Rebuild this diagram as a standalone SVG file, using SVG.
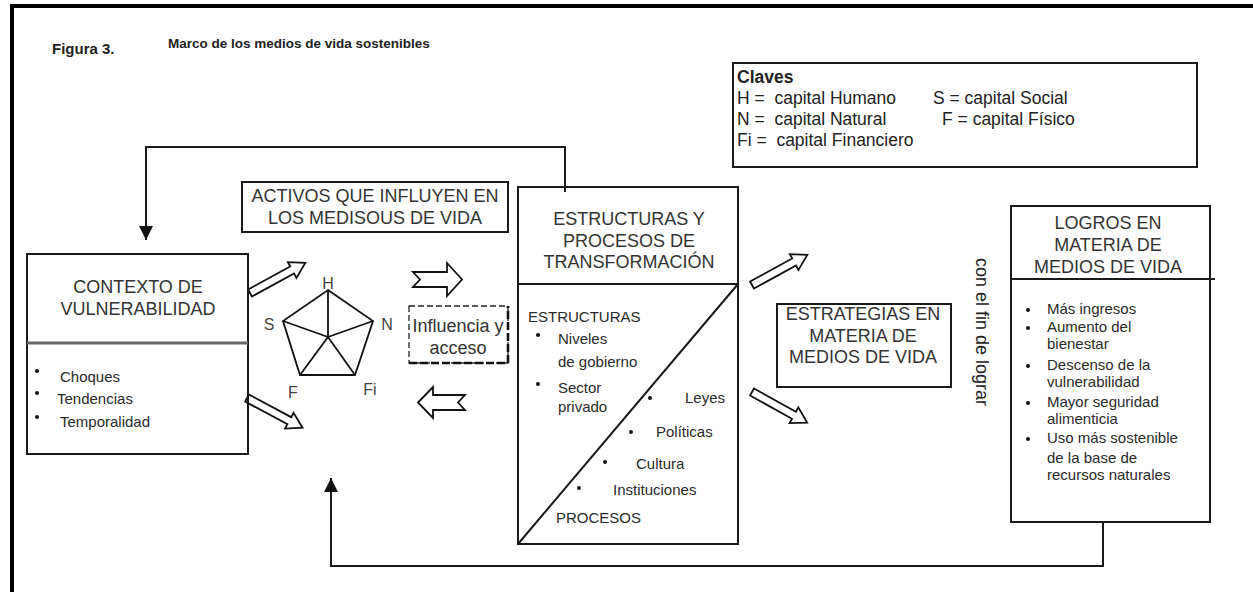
<svg xmlns="http://www.w3.org/2000/svg" width="1253" height="592" viewBox="0 0 1253 592">
<style>
 text{font-family:"Liberation Sans",Arial,sans-serif;fill:#222}
 .box{fill:none;stroke:#1a1a1a;stroke-width:2}
 .hd{font-size:18px;text-anchor:middle;fill:#333}
 .sm{font-size:15px;fill:#2a2a2a}
 .key{font-size:17.5px;fill:#222}
 .conn{fill:none;stroke:#1a1a1a;stroke-width:2}
 .blk{fill:#fff;stroke:#111;stroke-width:1.8;stroke-linejoin:miter}
 .lbl{font-size:16px;fill:#444;text-anchor:middle}
 .dot{fill:#111}
</style>
<defs>
 <marker id="ah" markerUnits="userSpaceOnUse" markerWidth="14" markerHeight="14" refX="14" refY="7" orient="auto"><path d="M0,0 L14,7 L0,14 Z" fill="#111"/></marker>
 <path id="darr" d="M0,-4 H48 V-9 L63,0 L48,9 V4 H0 Z"/>
</defs>
<rect width="1253" height="592" fill="#fff"/>
<path d="M12,592 V6 H1253" fill="none" stroke="#000" stroke-width="4"/>

<g id="title">
 <text x="52" y="54" font-size="15" font-weight="bold" fill="#000">Figura 3.</text>
 <text x="168" y="48" font-size="13.5" font-weight="bold" fill="#333">Marco de los medios de vida sostenibles</text>
</g>

<g id="claves">
 <rect class="box" x="733" y="63" width="464" height="104"/>
 <text class="key" x="737" y="83" font-weight="bold" font-size="16">Claves</text>
 <text class="key" x="737" y="104">H =&#160; capital Humano</text>
 <text class="key" x="933" y="104">S = capital Social</text>
 <text class="key" x="737" y="125">N =&#160; capital Natural</text>
 <text class="key" x="942" y="125">F = capital Físico</text>
 <text class="key" x="737" y="146">Fi =&#160; capital Financiero</text>
</g>

<g id="connectors">
 <path class="conn" d="M565,192 V147 H146 V240" marker-end="url(#ah)"/>
 <path class="conn" d="M1103,522 V566 H331 V478" marker-end="url(#ah)"/>
 <use href="#darr" class="blk" transform="translate(250,293) rotate(-28.6)"/>
 <use href="#darr" class="blk" transform="translate(247,398) rotate(28.2)"/>
 <use href="#darr" class="blk" transform="translate(752,285) rotate(-28.6)"/>
 <use href="#darr" class="blk" transform="translate(752,392) rotate(29)"/>
 <path class="blk" d="M413,272 H447 V263 L462,279.5 L447,296 V287 H413 L420,279.5 Z"/>
 <path class="blk" d="M418,402.5 L433,387 V395 H465 L458,402.5 L465,410 H433 V418 Z"/>
</g>

<g id="contexto">
 <rect class="box" x="27" y="254" width="221" height="200"/>
 <line x1="27" y1="343" x2="248" y2="343" stroke="#666" stroke-width="3"/>
 <text class="hd" x="138" y="293">CONTEXTO DE</text>
 <text class="hd" x="138" y="315">VULNERABILIDAD</text>
 <circle class="dot" cx="37" cy="371" r="2"/>
 <circle class="dot" cx="37" cy="393" r="2"/>
 <circle class="dot" cx="37" cy="417" r="2"/>
 <text class="sm" x="60" y="382">Choques</text>
 <text class="sm" x="57" y="404">Tendencias</text>
 <text class="sm" x="60" y="427">Temporalidad</text>
</g>

<g id="activos">
 <rect class="box" x="242" y="182" width="266" height="50"/>
 <text class="hd" x="375" y="202">ACTIVOS QUE INFLUYEN EN</text>
 <text class="hd" x="375" y="224">LOS MEDISOUS DE VIDA</text>
</g>

<g id="pentagono" stroke="#111" stroke-width="1.8" fill="none">
 <polygon points="328,290 373,321 355,375 300,375 283,321"/>
 <path d="M328,337 L328,290 M328,337 L373,321 M328,337 L355,375 M328,337 L300,375 M328,337 L283,321"/>
 <g stroke="none">
  <text class="lbl" x="328" y="289">H</text>
  <text class="lbl" x="269" y="330">S</text>
  <text class="lbl" x="387" y="330">N</text>
  <text class="lbl" x="293" y="398">F</text>
  <text class="lbl" x="370" y="395">Fi</text>
 </g>
</g>

<g id="influencia">
 <rect x="409" y="306" width="99" height="57" fill="none" stroke="#222" stroke-width="1.3" stroke-dasharray="6,3"/>
 <path d="M409,363 H508 V306" fill="none" stroke="#111" stroke-width="2.6" stroke-dasharray="8,3"/>
 <text class="hd" x="458" y="332">Influencia y</text>
 <text class="hd" x="458" y="354">acceso</text>
</g>

<g id="estructuras">
 <rect class="box" x="518" y="187" width="220" height="357"/>
 <line x1="518" y1="284" x2="738" y2="284" stroke="#1a1a1a" stroke-width="2"/>
 <line x1="518" y1="544" x2="738" y2="284" stroke="#1a1a1a" stroke-width="2"/>
 <text class="hd" x="629" y="225">ESTRUCTURAS Y</text>
 <text class="hd" x="629" y="247">PROCESOS DE</text>
 <text class="hd" x="629" y="268">TRANSFORMACIÓN</text>
 <text class="sm" x="528" y="322">ESTRUCTURAS</text>
 <circle class="dot" cx="538" cy="335" r="2"/>
 <text class="sm" x="558" y="344">Niveles</text>
 <text class="sm" x="558" y="367">de gobierno</text>
 <circle class="dot" cx="538" cy="384" r="2"/>
 <text class="sm" x="558" y="393">Sector</text>
 <text class="sm" x="558" y="412">privado</text>
 <circle class="dot" cx="650" cy="398" r="2"/>
 <text class="sm" x="685" y="403">Leyes</text>
 <circle class="dot" cx="631" cy="432" r="2"/>
 <text class="sm" x="656" y="437">Políticas</text>
 <circle class="dot" cx="605" cy="462" r="2"/>
 <text class="sm" x="636" y="469">Cultura</text>
 <circle class="dot" cx="579" cy="488" r="2"/>
 <text class="sm" x="613" y="495">Instituciones</text>
 <text class="sm" x="556" y="523">PROCESOS</text>
</g>

<g id="estrategias">
 <rect class="box" x="777" y="304" width="174" height="83"/>
 <text class="hd" x="863" y="320">ESTRATEGIAS EN</text>
 <text class="hd" x="863" y="342">MATERIA DE</text>
 <text class="hd" x="863" y="363">MEDIOS DE VIDA</text>
</g>

<g id="con-el-fin">
 <text transform="translate(976,332) rotate(90)" font-size="18" text-anchor="middle" fill="#555">con el fin de lograr</text>
</g>

<g id="logros">
 <rect class="box" x="1011" y="206" width="199" height="316"/>
 <line x1="1011" y1="279" x2="1215" y2="279" stroke="#1a1a1a" stroke-width="2"/>
 <text class="hd" x="1108" y="229">LOGROS EN</text>
 <text class="hd" x="1108" y="251">MATERIA DE</text>
 <text class="hd" x="1108" y="273">MEDIOS DE VIDA</text>
 <circle class="dot" cx="1028" cy="310" r="2"/>
 <circle class="dot" cx="1028" cy="328" r="2"/>
 <circle class="dot" cx="1028" cy="366" r="2"/>
 <circle class="dot" cx="1028" cy="403" r="2"/>
 <circle class="dot" cx="1028" cy="439" r="2"/>
 <text class="sm" x="1047" y="314">Más ingresos</text>
 <text class="sm" x="1047" y="332">Aumento del</text>
 <text class="sm" x="1047" y="349">bienestar</text>
 <text class="sm" x="1047" y="370">Descenso de la</text>
 <text class="sm" x="1047" y="387">vulnerabilidad</text>
 <text class="sm" x="1047" y="407">Mayor seguridad</text>
 <text class="sm" x="1047" y="424">alimenticia</text>
 <text class="sm" x="1047" y="443">Uso más sostenible</text>
 <text class="sm" x="1047" y="463">de la base de</text>
 <text class="sm" x="1047" y="480">recursos naturales</text>
</g>
</svg>
